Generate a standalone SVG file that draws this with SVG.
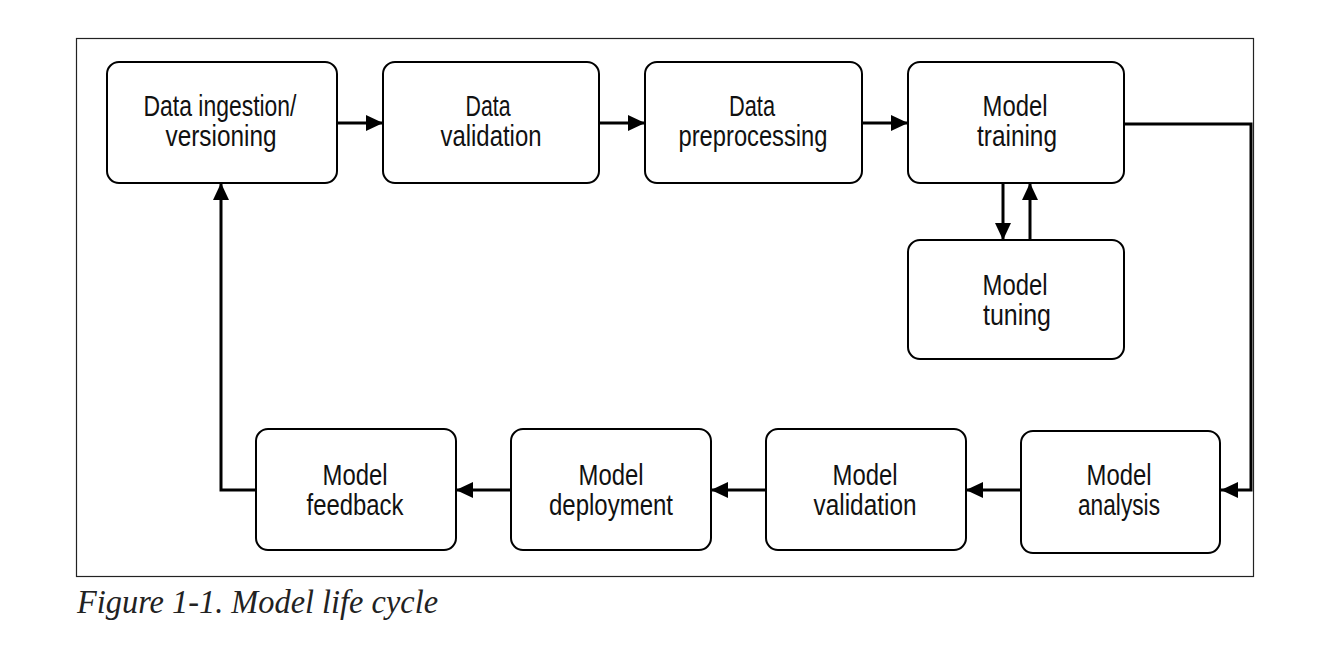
<svg xmlns="http://www.w3.org/2000/svg" width="1335" height="649" viewBox="0 0 1335 649">
<style>
.box{fill:#fff;stroke:#000;stroke-width:2}
.t{font-family:"Liberation Sans",Arial,sans-serif;font-size:29px;fill:#111;text-anchor:middle}
.c{fill:none;stroke:#000;stroke-width:3;marker-end:url(#ah)}
.cap{font-family:"Liberation Serif","Times New Roman",serif;font-style:italic;font-size:33px;fill:#222}
</style>
<defs>
<marker id="ah" markerUnits="userSpaceOnUse" markerWidth="18" markerHeight="18" refX="17" refY="8" orient="auto">
<path d="M0,0 L17,8 L0,16 z" fill="#000"/>
</marker>
</defs>
<rect x="76.5" y="38.5" width="1177" height="538" fill="#fff" stroke="#222" stroke-width="1.2"/>
<g id="connectors">
<path class="c" d="M337,123 H383"/>
<path class="c" d="M599,123 H645"/>
<path class="c" d="M862,123 H908"/>
<path class="c" d="M1124,124 H1251 V490 H1221"/>
<path class="c" d="M1003,183 V240"/>
<path class="c" d="M1030,240 V183"/>
<path class="c" d="M1021,490 H966"/>
<path class="c" d="M766,490 H711"/>
<path class="c" d="M511,490 H456"/>
<path class="c" d="M256,490 H221 V183"/>
</g>
<g id="n1"><rect class="box" x="107" y="62" width="230" height="121" rx="12"/>
<text class="t" x="220" y="116" textLength="153" lengthAdjust="spacingAndGlyphs">Data ingestion/</text>
<text class="t" x="221" y="146" textLength="111" lengthAdjust="spacingAndGlyphs">versioning</text></g>
<g id="n2"><rect class="box" x="383" y="62" width="216" height="121" rx="12"/>
<text class="t" x="488" y="116" textLength="45" lengthAdjust="spacingAndGlyphs">Data</text>
<text class="t" x="491" y="146" textLength="101" lengthAdjust="spacingAndGlyphs">validation</text></g>
<g id="n3"><rect class="box" x="645" y="62" width="217" height="121" rx="12"/>
<text class="t" x="752" y="116" textLength="46" lengthAdjust="spacingAndGlyphs">Data</text>
<text class="t" x="753" y="146" textLength="149" lengthAdjust="spacingAndGlyphs">preprocessing</text></g>
<g id="n4"><rect class="box" x="908" y="62" width="216" height="121" rx="12"/>
<text class="t" x="1015" y="116" textLength="65" lengthAdjust="spacingAndGlyphs">Model</text>
<text class="t" x="1017" y="146" textLength="80" lengthAdjust="spacingAndGlyphs">training</text></g>
<g id="n5"><rect class="box" x="908" y="240" width="216" height="119" rx="12"/>
<text class="t" x="1015" y="295" textLength="65" lengthAdjust="spacingAndGlyphs">Model</text>
<text class="t" x="1017" y="325" textLength="68" lengthAdjust="spacingAndGlyphs">tuning</text></g>
<g id="n6"><rect class="box" x="1021" y="431" width="199" height="122" rx="12"/>
<text class="t" x="1119" y="485" textLength="65" lengthAdjust="spacingAndGlyphs">Model</text>
<text class="t" x="1119" y="515" textLength="82" lengthAdjust="spacingAndGlyphs">analysis</text></g>
<g id="n7"><rect class="box" x="766" y="429" width="200" height="121" rx="12"/>
<text class="t" x="865" y="485" textLength="65" lengthAdjust="spacingAndGlyphs">Model</text>
<text class="t" x="865" y="515" textLength="103" lengthAdjust="spacingAndGlyphs">validation</text></g>
<g id="n8"><rect class="box" x="511" y="429" width="200" height="121" rx="12"/>
<text class="t" x="611" y="485" textLength="65" lengthAdjust="spacingAndGlyphs">Model</text>
<text class="t" x="611" y="515" textLength="124" lengthAdjust="spacingAndGlyphs">deployment</text></g>
<g id="n9"><rect class="box" x="256" y="429" width="200" height="121" rx="12"/>
<text class="t" x="355" y="485" textLength="65" lengthAdjust="spacingAndGlyphs">Model</text>
<text class="t" x="355" y="515" textLength="97" lengthAdjust="spacingAndGlyphs">feedback</text></g>
<text class="cap" x="77" y="613" textLength="361" lengthAdjust="spacingAndGlyphs">Figure 1-1. Model life cycle</text>
</svg>
